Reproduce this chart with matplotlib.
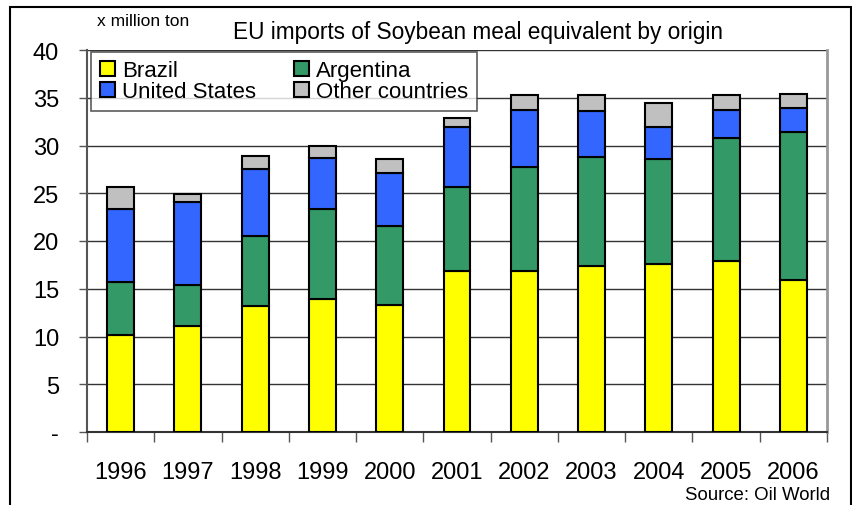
import numpy as np
import matplotlib
matplotlib.use("Agg")
import matplotlib.pyplot as plt
import matplotlib.patches as patches
from matplotlib import font_manager

plt.rcParams["font.family"] = ["Liberation Sans", "DejaVu Sans"]
nomes_fontes = {f.name for f in font_manager.fontManager.ttflist}
fonte_estreita = "Liberation Sans Narrow" if "Liberation Sans Narrow" in nomes_fontes else "Liberation Sans"

# dados (milhoes de toneladas)
anos = ["1996", "1997", "1998", "1999", "2000", "2001",
        "2002", "2003", "2004", "2005", "2006"]
brasil = [10.2, 11.1, 13.2, 13.9, 13.3, 16.9, 16.9, 17.4, 17.6, 17.9, 15.95]
argentina = [5.5, 4.3, 7.35, 9.4, 8.3, 8.75, 10.8, 11.4, 11.0, 12.9, 15.45]
eua = [7.6, 8.65, 6.95, 5.35, 5.55, 6.25, 6.05, 4.8, 3.3, 2.95, 2.5]
outros = [2.4, 0.9, 1.35, 1.25, 1.45, 0.95, 1.55, 1.7, 2.6, 1.55, 1.5]

series = [
    ("Brazil", brasil, "#ffff00"),
    ("Argentina", argentina, "#339966"),
    ("United States", eua, "#3366ff"),
    ("Other countries", outros, "#c0c0c0"),
]

W, H = 853, 506
fig = plt.figure(figsize=(W / 100, H / 100), dpi=100)
ax = fig.add_axes([87 / W, (H - 433) / H, (827 - 87) / W, (433 - 51) / H])

x = np.arange(len(anos))
base = np.zeros(len(anos))
handles = {}
for nome, vals, cor in series:
    b = ax.bar(x, vals, width=0.4, bottom=base, color=cor,
               edgecolor="black", linewidth=1.5, label=nome, zorder=3)
    handles[nome] = b
    base = base + np.array(vals)

ax.set_xlim(-0.5, len(anos) - 0.5)
ax.set_ylim(0, 40)

# grade horizontal
ax.set_yticks(np.arange(0, 41, 5))
ax.set_yticklabels(["-"] + [str(v) for v in range(5, 41, 5)], fontsize=17)
ax.yaxis.grid(True, color="#333333", linewidth=1.0, zorder=0)
ax.tick_params(axis="y", direction="out", length=6, width=1, pad=14,
               color="#555555")

# rotulos dos anos no centro, tracinhos entre as categorias
ax.set_xticks(x)
ax.set_xticklabels(anos, fontsize=17, family=fonte_estreita)
ax.set_xticks(np.arange(-0.5, len(anos), 1), minor=True)
ax.tick_params(axis="x", which="major", length=0, pad=21)
ax.tick_params(axis="x", which="minor", direction="out", length=7,
               width=1, color="#555555")

ax.spines["top"].set_visible(False)
ax.spines["left"].set_color("#555555")
ax.spines["left"].set_linewidth(1.5)
ax.spines["bottom"].set_color("#333333")
ax.spines["bottom"].set_linewidth(1.5)
ax.spines["right"].set_color("#999999")
ax.spines["right"].set_linewidth(2)

# legenda em duas colunas
ordem = ["Brazil", "United States", "Argentina", "Other countries"]
leg = ax.legend([handles[n] for n in ordem], ordem, ncol=2,
                loc="upper left", bbox_to_anchor=(0.006, 0.995),
                fontsize=16, frameon=True, fancybox=False,
                handlelength=0.7, handleheight=0.7, handletextpad=0.3,
                columnspacing=1.7, labelspacing=0.0, borderpad=0.38,
                borderaxespad=0.0)
leg.get_frame().set_edgecolor("#333333")
leg.get_frame().set_linewidth(1.2)
leg.set_zorder(5)

fig.text(233 / W, 1 - 32 / H, "EU imports of Soybean meal equivalent by origin",
         fontsize=16.3, ha="left", va="center")
fig.text(97 / W, 1 - 22 / H, "x million ton", fontsize=12.5,
         ha="left", va="center")
fig.text(830 / W, 1 - 496 / H, "Source: Oil World", fontsize=13.4,
         ha="right", va="center", family=fonte_estreita)

# moldura externa
fig.patches.append(patches.Rectangle(
    (10 / W, -0.1), (851 - 10) / W, 1 - 8 / H + 0.1,
    transform=fig.transFigure, fill=False, edgecolor="black",
    linewidth=1.5, clip_on=False))

fig.savefig("out.png", dpi=100)
